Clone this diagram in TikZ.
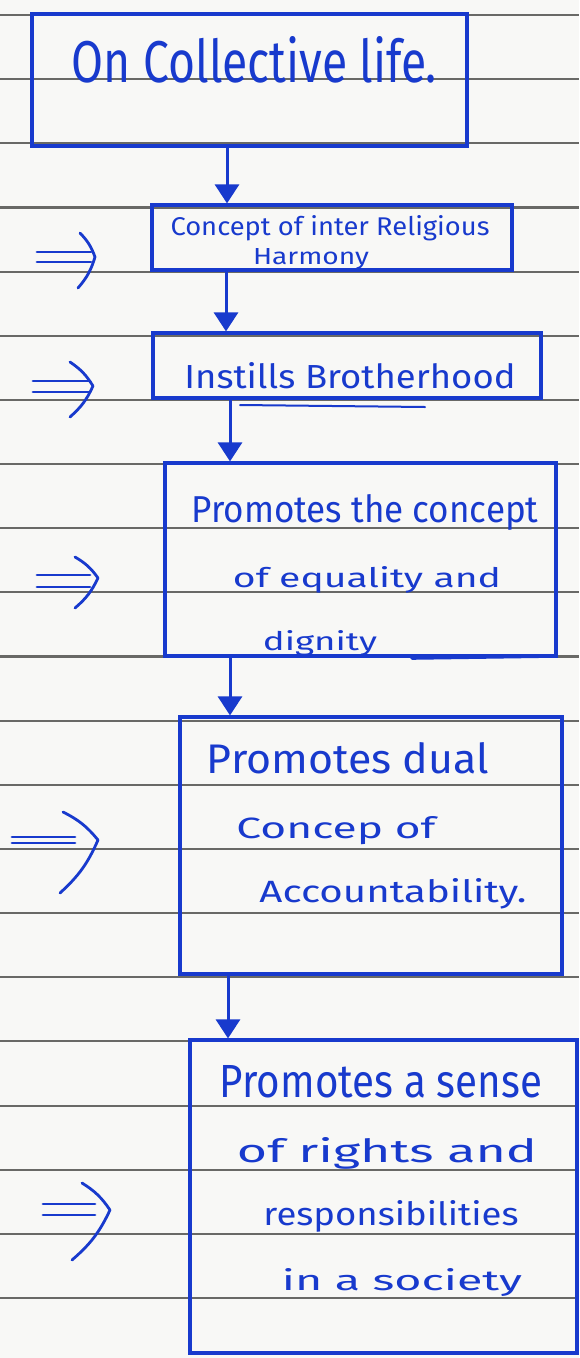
\documentclass[tikz,border=0pt]{standalone}
\usepackage{fontspec}
\setmainfont{Fira Sans}
\usetikzlibrary{arrows.meta}
\definecolor{ink}{RGB}{24,58,205}
\definecolor{rulegrey}{RGB}{105,105,102}
\definecolor{paper}{RGB}{248,248,246}
\newcommand{\hw}[3]{\resizebox{#1pt}{#2pt}{#3}}
\begin{document}
\begin{tikzpicture}[x=1pt,y=-1pt,
  ruling/.style={draw=rulegrey,line width=2.1pt},
  box/.style={draw=ink,line width=3.2pt,rectangle,inner sep=0pt},
  txt/.style={text=ink,inner sep=0pt,anchor=base},
  conn/.style={draw=ink,line width=3pt,-{Triangle[width=24pt,length=19pt]}},
  pen/.style={draw=ink,line width=2.8pt,line cap=round,line join=round}]
\useasboundingbox (0,0) rectangle (579,1358);
\fill[paper] (0,0) rectangle (579,1358);
\foreach \k in {0,...,20} \draw[ruling] (0,{15+64.15*\k}) -- (579,{15+64.15*\k});

% boxes
\node[box,minimum width=435pt,minimum height=132pt] (b1) at (249.5,80) {};
\node[box,minimum width=360pt,minimum height=65pt] (b2) at (332,237.5) {};
\node[box,minimum width=388pt,minimum height=65pt] (b3) at (347,365.5) {};
\node[box,minimum width=391pt,minimum height=193pt] (b4) at (360.5,559.5) {};
\node[box,minimum width=382pt,minimum height=257pt] (b5) at (371,845.5) {};
\node[box,minimum width=387pt,minimum height=313pt] (b6) at (383.5,1196.5) {};

% texts
\node[txt] (t1) at (254.5,82) {\hw{365}{46}{On Collective life.}};
\node[txt] (t2a) at (330,235) {\hw{319}{20}{Concept of inter Religious}};
\node[txt] (t2b) at (311,264) {\hw{116}{16}{Harmony}};
\node[txt] (t3) at (350,388) {\hw{331}{26}{Instills Brotherhood}};
\node[txt] (t4a) at (365,522) {\hw{347}{28}{Promotes the concept}};
\node[txt] (t4b) at (367,587) {\hw{268}{21}{of equality and}};
\node[txt] (t4c) at (320,650) {\hw{114}{20}{dignity}};
\node[txt] (t5a) at (348,773) {\hw{282}{31}{Promotes dual}};
\node[txt] (t5b) at (336,838) {\hw{199}{22}{Concep of}};
\node[txt] (t5c) at (393,902) {\hw{267}{24}{Accountability.}};
\node[txt] (t6a) at (381,1097) {\hw{322}{32}{Promotes a sense}};
\node[txt] (t6b) at (387,1162) {\hw{300}{25}{of rights and}};
\node[txt] (t6c) at (391,1225) {\hw{255}{25}{responsibilities}};
\node[txt] (t6d) at (402,1290) {\hw{240}{22}{in a society}};

% connectors
\coordinate (x1) at (227,0);
\coordinate (x2) at (226,0);
\coordinate (x3) at (230,0);
\coordinate (x4) at (230,0);
\coordinate (x5) at (228,0);
\draw[conn] (b1.south -| x1) -- (b2.north -| x1);
\draw[conn] (b2.south -| x2) -- (b3.north -| x2);
\draw[conn] (b3.south -| x3) -- (b4.north -| x3);
\draw[conn] (b4.south -| x4) -- (b5.north -| x4);
\draw[conn] (b5.south -| x5) -- (b6.north -| x5);

% extra pen strokes
\draw[pen,line width=2pt] (240,405) -- (425,407);
\draw[pen,line width=3.6pt] (412,658) -- (552,656);

% left double arrows
\draw[pen] (37,252) -- (91,252) (37,262) -- (91,262);
\draw[pen] (80,233) to[bend left=12] (95,257) to[bend left=12] (78,288);
\draw[pen] (33,381) -- (90,381) (33,392) -- (90,392);
\draw[pen] (70,362) to[bend left=12] (93,386) to[bend left=12] (70,417);
\draw[pen] (37,575) -- (90,575) (37,587) -- (90,587);
\draw[pen] (75,557) to[bend left=12] (98,578) to[bend left=12] (75,608);
\draw[pen] (12,837) -- (75,837) (12,843) -- (75,843);
\draw[pen] (63,812) to[bend left=12] (98,840) to[bend left=12] (60,893);
\draw[pen] (43,1204) -- (95,1204) (43,1215) -- (95,1215);
\draw[pen] (82,1183) to[bend left=12] (110,1210) to[bend left=12] (72,1260);
\end{tikzpicture}
\end{document}
